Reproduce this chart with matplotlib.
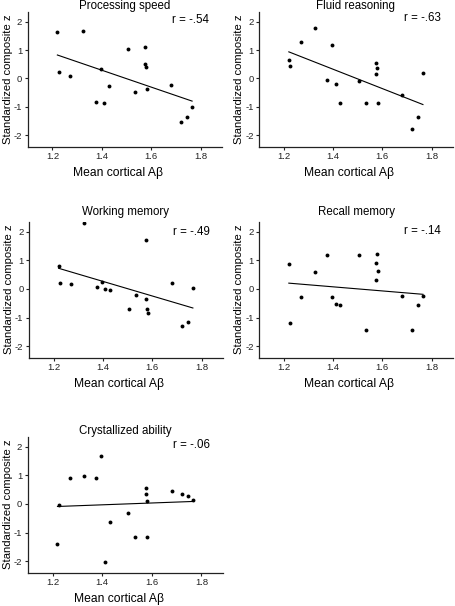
import numpy as np
import matplotlib
matplotlib.use("Agg")
import matplotlib.pyplot as plt

plt.rcParams['font.family'] = ['Liberation Sans', 'DejaVu Sans']

# Mean cortical Abeta (same participants in every panel)
amyloid = [1.220, 1.225, 1.270, 1.325, 1.375, 1.395, 1.410, 1.430, 1.505,
           1.533, 1.575, 1.576, 1.580, 1.582, 1.680, 1.720, 1.745, 1.765]

processing_speed = [1.62, 0.23, 0.08, 1.68, -0.81, 0.33, -0.85, -0.26, 1.04,
                    -0.47, 1.10, 0.52, 0.42, -0.37, -0.24, -1.52, -1.36, -1.00]
fluid_reasoning = [0.65, 0.45, 1.30, 1.77, -0.04, 1.18, -0.18, -0.87, -0.08,
                   -0.87, 0.56, 0.16, 0.38, -0.87, -0.58, -1.76, -1.37, 0.20]
working_memory = [0.80, 0.22, 0.17, 2.30, 0.06, 0.24, -0.01, -0.05, -0.71,
                  -0.21, 1.71, -0.34, -0.71, -0.84, 0.20, -1.30, -1.16, 0.05]
recall_memory = [0.87, -1.18, -0.28, 0.61, 1.20, -0.27, -0.53, -0.57, 1.20,
                 -1.44, 0.90, 0.30, 1.22, 0.62, -0.26, -1.44, -0.56, -0.26]
crystallized = [-1.41, -0.02, 0.91, 0.98, 0.90, 1.69, -2.03, -0.62, -0.32,
                -1.15, 0.55, 0.36, 0.10, -1.15, 0.45, 0.36, 0.27, 0.15]

titles = ["Processing speed", "Fluid reasoning", "Working memory",
          "Recall memory", "Crystallized ability"]
r_labels = ["r = -.54", "r = -.63", "r = -.49", "r = -.14", "r = -.06"]
series = [processing_speed, fluid_reasoning, working_memory, recall_memory,
          crystallized]
x_ticks = [1.2, 1.4, 1.6, 1.8]
y_ticks = [-2, -1, 0, 1, 2]
x_label = "Mean cortical A\u03b2"
y_label = "Standardized composite z"

W, H = 455, 606
fig = plt.figure(figsize=(W / 100, H / 100), dpi=100)

# panel boxes in pixels: left, right, top, bottom
boxes = [(27.7, 222.0, 11.7, 146.7),
         (259.3, 452.7, 11.7, 146.7),
         (29.0, 222.7, 221.7, 357.7),
         (259.3, 452.7, 221.7, 357.7),
         (27.7, 222.7, 436.7, 572.7)]
title_y = [6.0, 6.0, 212.0, 212.0, 430.7]
r_pos = [(0.935, 0.94), (0.94, 0.955), (0.935, 0.925), (0.94, 0.93), (0.935, 0.94)]

for i, (yv, ttl, rl, box) in enumerate(zip(series, titles, r_labels, boxes)):
    l, r, t, b = box
    ax = fig.add_axes([l / W, 1 - b / H, (r - l) / W, (b - t) / H])
    x = np.array(amyloid)
    y = np.array(yv)
    ax.plot(x, y, 'o', color='black', markersize=2.8, markeredgewidth=0)
    m, c = np.polyfit(x, y, 1)
    xs = np.array([x.min(), x.max()])
    ax.plot(xs, m * xs + c, color='black', lw=0.8)
    ax.set_xlim(1.1, 1.886)
    ax.set_ylim(-2.4, 2.35)
    ax.set_xticks(x_ticks)
    ax.set_xticklabels([f"{v:.1f}" for v in x_ticks])
    ax.set_yticks(y_ticks)
    ax.set_yticklabels([str(v) for v in y_ticks])
    for s in ['top', 'right']:
        ax.spines[s].set_visible(False)
    for s in ['left', 'bottom']:
        ax.spines[s].set_linewidth(0.9)
        ax.spines[s].set_color('#222222')
    ax.tick_params(direction='out', length=2.5, width=0.8, labelsize=6.8,
                   pad=1.5, color='#222222', labelcolor='#222222')
    ax.set_ylabel(y_label, fontsize=8.1)
    ax.yaxis.label.set_va('center')
    ax.yaxis.set_label_coords(-0.103, 0.5)
    ax.set_xlabel(x_label, fontsize=8.7)
    ax.xaxis.label.set_va('center')
    ax.xaxis.set_label_coords(0.466, -0.193)
    ax.text(*r_pos[i], rl, transform=ax.transAxes, ha='right', va='center',
            fontsize=8.3)
    fig.text(((l + r) / 2) / W, 1 - title_y[i] / H, ttl, ha='center',
             va='center', fontsize=8.3)

fig.savefig("out.png", dpi=100)
